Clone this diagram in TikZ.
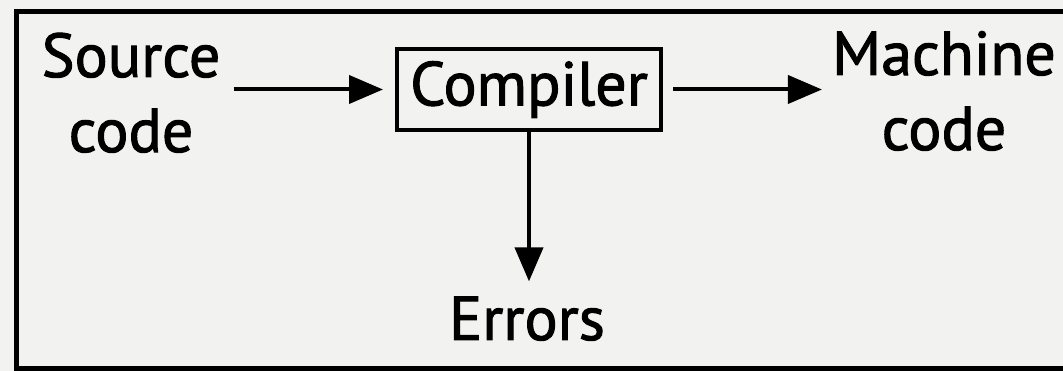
\documentclass[tikz,border=0pt]{standalone}
\usepackage{fontspec}
\setmainfont{PT Sans}
\newfontfamily\lblfont{PT Sans}[FakeBold=1.6]
\usetikzlibrary{arrows.meta}
\definecolor{bgc}{HTML}{F2F2F0}
\tikzset{
  lbl/.style={inner sep=0pt, align=center, font=\lblfont\fontsize{62}{75}\selectfont},
  arr/.style={line width=4pt, -{Triangle[length=34pt,width=28pt]}},
  boxc/.style={draw, line width=4pt, minimum width=264pt, minimum height=81pt, inner sep=0pt, font=\lblfont\fontsize{62}{75}\selectfont}
}
\begin{document}
\begin{tikzpicture}[x=1pt,y=1pt]
\fill[bgc] (0,0) rectangle (1063,371);
\useasboundingbox (0,0) rectangle (1063,371);
\clip (0,0) rectangle (1063,371);
\draw[line width=5pt] (16.5,2.5) rectangle (1090,359.5);
\node[lbl, anchor=base] (src) at (131,219) {Source\\code};
\node[boxc] (comp) at (529,281.5) {Compiler};
\node[lbl, anchor=base] (mach) at (944,221) {Machine\\code};
\node[lbl, anchor=base] (err) at (527,31) {Errors};
\draw[arr, shorten <=13pt, shorten >=12pt] (comp.west -| src.east) -- (comp.west);
\draw[arr, shorten <=10pt, shorten >=10pt] (comp.east) -- (comp.east -| mach.west);
\draw[arr, shorten >=15pt] (comp.south) -- (comp.south |- err.north);
\end{tikzpicture}
\end{document}
